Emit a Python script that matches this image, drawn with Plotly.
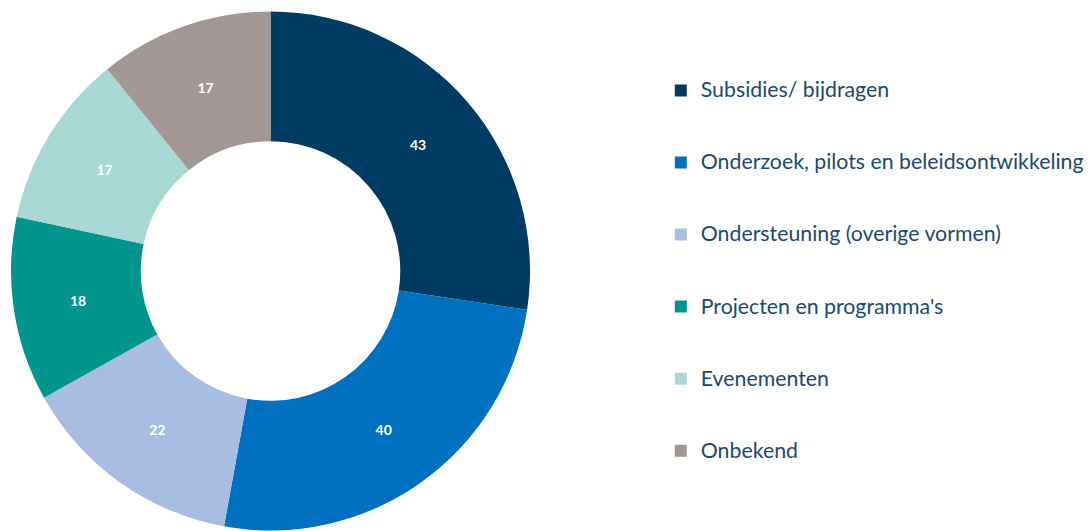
import plotly.graph_objects as go

labels = ["Subsidies/ bijdragen", "Onderzoek, pilots en beleidsontwikkeling",
          "Ondersteuning (overige vormen)", "Projecten en programma's",
          "Evenementen", "Onbekend"]
values = [43, 40, 22, 18, 17, 17]
colors = ["#003B63", "#0070C0", "#A7BDE2", "#00968F", "#A8D8D4", "#A39795"]

W, H = 1089, 531
legend_labels = ["<br><span style='font-size:21.3px'>" + l + "</span><br> " for l in labels]

fig = go.Figure(go.Pie(
    labels=legend_labels,
    values=values,
    hole=0.5,
    sort=False,
    direction="clockwise",
    rotation=0,
    marker=dict(colors=colors, line=dict(width=0)),
    textinfo="value",
    textposition="inside",
    insidetextorientation="horizontal",
    textfont=dict(family="Lato", size=14, color="white", weight="bold"),
    domain=dict(x=[11 / W, 531 / W], y=[0, 1]),
))
fig.update_layout(
    width=W, height=H,
    margin=dict(l=0, r=0, t=11, b=0),
    paper_bgcolor="white",
    showlegend=True,
    legend=dict(x=662 / W, y=0.5, xanchor="left", yanchor="middle",
                font=dict(family="Lato", size=17.7, color="#1A4A70"),
                bgcolor="rgba(0,0,0,0)"),
)
fig.write_html("out.html")
